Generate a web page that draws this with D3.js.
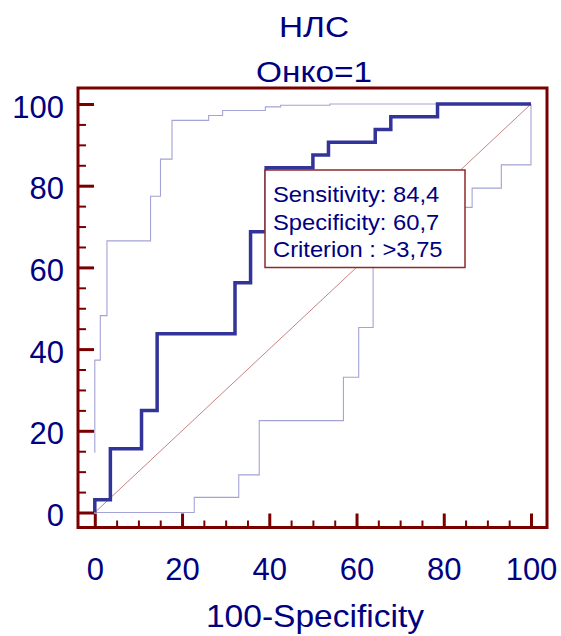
<!DOCTYPE html>
<html>
<head>
<meta charset="utf-8">
<script src="https://cdn.jsdelivr.net/npm/d3@7"></script>
<style>
  html, body { margin: 0; padding: 0; background: #fff; }
  svg { display: block; }
  text { font-family: "Liberation Sans", Arial, sans-serif; fill: #000080; }
</style>
</head>
<body>
<svg id="chart" width="561" height="636"></svg>
<script>
// ---- data ----
const titleLines = ["НЛС", "Онко=1"];
const xAxisTitle = "100-Specificity";
const majorTicks = [0, 20, 40, 60, 80, 100];
const minorTicks = [5, 10, 15, 25, 30, 35, 45, 50, 55, 65, 70, 75, 85, 90, 95];

// ROC curve corner points (100-Specificity, Sensitivity), drawn as step-before
const rocFpr  = [0, 3.57, 10.71, 14.29, 32.14, 35.71, 39.29, 50, 53.57, 64.29, 67.86, 78.57, 100];
const rocSens = [0, 3.125, 15.625, 25, 43.75, 56.25, 68.75, 84.375, 87.5, 90.625, 93.75, 96.875, 100];

// upper confidence bound (step-before)
const upFpr  = [0, 1.26, 2.79, 12.78, 15.06, 17.7, 26.1, 29.3, 39.1, 42.6, 53.9, 100];
const upSens = [14.6, 37.3, 48.2, 66.5, 77.4, 86.5, 96.0, 97.2, 98.4, 99.3, 99.7, 100];

// lower confidence bound (step-after)
const loFpr  = [0, 22.8, 33.0, 37.7, 57.0, 60.5, 63.8, 86.5, 93.2, 100];
const loSens = [0, 3.7, 9.2, 22.5, 33.1, 45.3, 74.7, 79.4, 85.1, 100];

const diagonal = [0, 100];

const infoLines = ["Sensitivity: 84,4", "Specificity: 60,7", "Criterion : >3,75"];

// ---- layout ----
const svg = d3.select("#chart");
const frame = { left: 78, top: 88, right: 547, bottom: 527.5 };
const x = d3.scaleLinear().domain([0, 100]).range([94.8, 531]);
const y = d3.scaleLinear().domain([0, 100]).range([512.5, 104]);
const maroon = "#7a0000";

function stretchedText(parent, tx, ty, sx, size, anchor, str) {
  return parent.append("text")
    .attr("transform", `translate(${tx},${ty}) scale(${sx},1)`)
    .attr("text-anchor", anchor)
    .attr("font-size", size)
    .text(str);
}

// title
stretchedText(svg, 314, 37, 1.15, 29, "middle", titleLines[0]);
stretchedText(svg, 314, 82, 1.15, 29, "middle", titleLines[1]);

// diagonal
svg.append("line")
  .attr("x1", x(diagonal[0])).attr("y1", y(diagonal[0]))
  .attr("x2", x(diagonal[1])).attr("y2", y(diagonal[1]))
  .attr("stroke", "#c48383").attr("stroke-width", 1);

// bands
const upLine = d3.line().x((d, i) => x(upFpr[i])).y((d, i) => y(upSens[i])).curve(d3.curveStepBefore);
const loLine = d3.line().x((d, i) => x(loFpr[i])).y((d, i) => y(loSens[i])).curve(d3.curveStepAfter);
svg.append("path").attr("d", upLine(upFpr)).attr("fill", "none")
  .attr("stroke", "#a3a3d6").attr("stroke-width", 1.1);
svg.append("path").attr("d", loLine(loFpr)).attr("fill", "none")
  .attr("stroke", "#a3a3d6").attr("stroke-width", 1.1);

// ROC
const rocLine = d3.line().x((d, i) => x(rocFpr[i])).y((d, i) => y(rocSens[i])).curve(d3.curveStepBefore);
svg.append("path").attr("d", rocLine(rocFpr)).attr("fill", "none")
  .attr("stroke", "#32349a").attr("stroke-width", 3.5).attr("stroke-linejoin", "miter");

// info box
const box = svg.append("g");
box.append("rect").attr("x", 265).attr("y", 170).attr("width", 200).attr("height", 97.5)
  .attr("fill", "#fff").attr("stroke", "#8e2a2a").attr("stroke-width", 1.5);
infoLines.forEach((t, i) => {
  stretchedText(box, 273, 202 + i * 27.5, 1.08, 22, "start", t);
});

// axes: ticks pointing inward
function styleAxis(g, w) {
  g.select(".domain").remove();
  g.selectAll(".tick line").attr("stroke", maroon).attr("stroke-width", w);
}
const xMajor = svg.append("g").attr("transform", `translate(0,${frame.bottom})`)
  .call(d3.axisBottom(x).tickValues(majorTicks).tickSize(-14).tickPadding(30).tickFormat(d3.format("d")));
styleAxis(xMajor, 3);
xMajor.selectAll("text").attr("font-size", 31).attr("font-family", "Liberation Sans, Arial, sans-serif").attr("fill", "#000080");
const xMinor = svg.append("g").attr("transform", `translate(0,${frame.bottom})`)
  .call(d3.axisBottom(x).tickValues(minorTicks).tickSize(-7).tickFormat(""));
styleAxis(xMinor, 2);

const yMajor = svg.append("g").attr("transform", `translate(${frame.left},0)`)
  .call(d3.axisLeft(y).tickValues(majorTicks).tickSize(-16).tickPadding(14).tickFormat(d3.format("d")));
styleAxis(yMajor, 3);
yMajor.selectAll("text").attr("font-size", 31).attr("dy", "0.42em").attr("font-family", "Liberation Sans, Arial, sans-serif").attr("fill", "#000080");
const yMinor = svg.append("g").attr("transform", `translate(${frame.left},0)`)
  .call(d3.axisLeft(y).tickValues(minorTicks).tickSize(-8).tickFormat(""));
styleAxis(yMinor, 2);

// frame
svg.append("rect").attr("x", frame.left).attr("y", frame.top)
  .attr("width", frame.right - frame.left).attr("height", frame.bottom - frame.top)
  .attr("fill", "none").attr("stroke", maroon).attr("stroke-width", 3);

// x axis title
stretchedText(svg, 315, 627, 1.1, 30.5, "middle", xAxisTitle);
</script>
</body>
</html>
